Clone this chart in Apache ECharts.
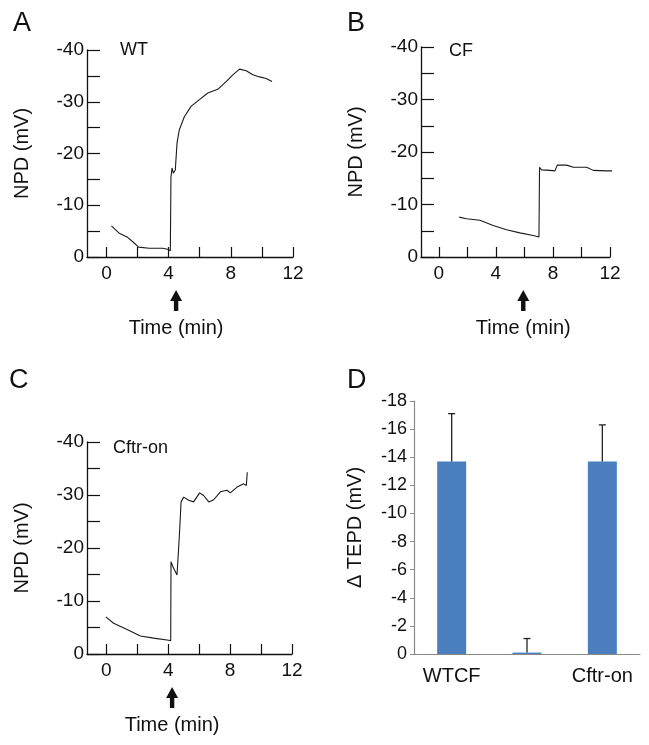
<!DOCTYPE html>
<html>
<head>
<meta charset="utf-8">
<script src="https://cdn.jsdelivr.net/npm/echarts@6/dist/echarts.min.js"></script>
<style>
  html, body { margin: 0; padding: 0; background: #fff; }
  #main { width: 649px; height: 745px; }
</style>
</head>
<body>
<div id="main"></div>
<script>
// NPD traces (time in min, NPD in mV)
const wtTime = [0.32, 0.82, 1.36, 1.68, 2.07, 2.75, 3.61, 3.94, 4.11, 4.15, 4.22, 4.30, 4.43, 4.54, 4.69, 5.01, 5.44, 5.98, 6.52, 7.16, 7.70, 8.13, 8.56, 8.99, 9.42, 9.85, 10.28, 10.65];
const wtNpd  = [-6.0, -4.6, -3.8, -3.0, -1.9, -1.7, -1.7, -1.5, -1.2, -15.5, -17.2, -16.2, -16.8, -22.0, -24.6, -27.1, -29.1, -30.4, -31.7, -32.4, -33.9, -35.2, -36.3, -36.0, -35.2, -34.8, -34.5, -33.9];

const cfTime = [1.43, 1.94, 2.88, 3.81, 4.75, 5.68, 6.62, 7.02, 7.06, 7.20, 7.79, 8.14, 8.30, 8.96, 9.43, 10.36, 10.83, 11.77, 12.82];
const cfNpd  = [-7.6, -7.3, -7.0, -6.0, -5.2, -4.6, -4.1, -3.8, -17.1, -16.6, -16.5, -16.4, -17.5, -17.5, -17.1, -17.1, -16.5, -16.4, -16.4];

const onTime = [-0.04, 0.47, 1.34, 2.20, 3.06, 4.03, 4.16, 4.18, 4.31, 4.57, 4.74, 4.83, 5.00, 5.32, 5.64, 6.03, 6.29, 6.62, 6.94, 7.37, 7.80, 8.01, 8.45, 8.88, 9.05, 9.11];
const onNpd  = [-7.0, -5.8, -4.6, -3.4, -3.0, -2.6, -2.5, -17.4, -16.4, -14.9, -23.4, -28.7, -29.6, -29.0, -28.7, -30.4, -29.9, -28.7, -29.1, -30.6, -30.9, -30.4, -31.5, -32.1, -31.8, -34.3];

// time of the addition marked by an arrow under each trace (min)
const arrowTimes = [4.48, 5.92, 4.25];

// axis ticks for the traces
const xTicks = [0, 2, 4, 6, 8, 10, 12];
const xLabels = [0, 4, 8, 12];
const yTicks = [-40, -35, -30, -25, -20, -15, -10, -5, 0];
const yLabels = [-40, -30, -20, -10, 0];

// panel D
const groups = ['WT', 'CF', 'Cftr-on'];
const groupLabels = ['WTCF', '', 'Cftr-on'];
const dTepd = [-13.7, -0.1, -13.7];
const dTepdSd = [3.4, 1.0, 2.6];

const FONT = 'Liberation Sans, Arial, sans-serif';
const INK = '#111';

const chart = echarts.init(document.getElementById('main'));

const grids = [
  { left: 87, top: 50, width: 206, height: 207 },
  { left: 421, top: 47, width: 189, height: 210 },
  { left: 87, top: 442, width: 205, height: 212 },
  { left: 414, top: 401, width: 226, height: 253 }
];

function traceX(i) {
  return {
    gridIndex: i, type: 'value', min: -1.25, max: 12,
    axisLine: { onZero: false, lineStyle: { color: INK, width: 1.3 } },
    axisTick: { inside: true, length: 10, customValues: xTicks, lineStyle: { color: INK, width: 1.2 } },
    axisLabel: { customValues: xLabels, margin: 7, fontSize: 19, color: INK, fontFamily: FONT },
    splitLine: { show: false }
  };
}
function traceY(i) {
  return {
    gridIndex: i, type: 'value', min: -40, max: 0, inverse: true,
    name: 'NPD (mV)', nameLocation: 'middle', nameGap: 55,
    nameTextStyle: { fontSize: 20, color: INK, fontFamily: FONT },
    axisLine: { show: true, onZero: false, lineStyle: { color: INK, width: 1.3 } },
    axisTick: { show: true, inside: true, length: 13, customValues: yTicks, lineStyle: { color: INK, width: 1.2 } },
    axisLabel: { customValues: yLabels, margin: 3, fontSize: 19, color: INK, fontFamily: FONT },
    splitLine: { show: false }
  };
}
function trace(i, t, v) {
  return {
    type: 'line', xAxisIndex: i, yAxisIndex: i,
    data: t.map((x, k) => [x, v[k]]),
    showSymbol: false, clip: false,
    lineStyle: { color: '#1a1a1a', width: 1.1 }
  };
}

function letter(txt, left, top) {
  return { text: txt, left: left, top: top, textStyle: { fontSize: 27, fontWeight: 'normal', color: INK, fontFamily: FONT } };
}
function tag(txt, left, top) {
  return { text: txt, left: left, top: top, textStyle: { fontSize: 18, fontWeight: 'normal', color: INK, fontFamily: FONT } };
}

option = {
  animation: false,
  textStyle: { fontFamily: FONT },
  title: [
    letter('A', 8, 5), letter('B', 342, 5), letter('C', 4, 362), letter('D', 342, 362),
    tag('WT', 115, 36), tag('CF', 444, 37), tag('Cftr-on', 108, 434)
  ],
  grid: grids,
  xAxis: [
    traceX(0), traceX(1), traceX(2),
    {
      gridIndex: 3, type: 'category', data: groups,
      axisLine: { lineStyle: { color: '#8a8a8a', width: 1.2 } },
      axisTick: { inside: true, length: 5, lineStyle: { color: '#8a8a8a' } },
      axisLabel: { formatter: (v, i) => groupLabels[i], margin: 12, fontSize: 20, color: INK, fontFamily: FONT }
    }
  ],
  yAxis: [
    traceY(0), traceY(1), traceY(2),
    {
      gridIndex: 3, type: 'value', min: -18, max: 0, interval: 2, inverse: true,
      name: 'Δ TEPD (mV)', nameLocation: 'middle', nameGap: 49,
      nameTextStyle: { fontSize: 20, color: INK, fontFamily: FONT },
      axisLine: { show: true, onZero: false, lineStyle: { color: '#8a8a8a', width: 1.2 } },
      axisTick: { show: true, length: 4, lineStyle: { color: '#8a8a8a' } },
      axisLabel: { margin: 7, fontSize: 18, color: INK, fontFamily: FONT },
      splitLine: { show: false }
    }
  ],
  series: [
    trace(0, wtTime, wtNpd),
    trace(1, cfTime, cfNpd),
    trace(2, onTime, onNpd),
    {
      type: 'bar', xAxisIndex: 3, yAxisIndex: 3, data: dTepd, barWidth: 29,
      itemStyle: { color: '#4a7ebf' }
    },
    {
      type: 'custom', xAxisIndex: 3, yAxisIndex: 3,
      data: groups.map((g, i) => [i, dTepd[i], dTepd[i] - dTepdSd[i]]),
      encode: { x: 0, y: [1, 2] },
      z: 5,
      renderItem: function (params, api) {
        const p0 = api.coord([api.value(0), api.value(1)]);
        const p1 = api.coord([api.value(0), api.value(2)]);
        const cap = 3.5;
        return {
          type: 'group',
          children: [
            { type: 'line', shape: { x1: p0[0], y1: p0[1], x2: p1[0], y2: p1[1] }, style: { stroke: '#222', lineWidth: 1.3 } },
            { type: 'line', shape: { x1: p1[0] - cap, y1: p1[1], x2: p1[0] + cap, y2: p1[1] }, style: { stroke: '#222', lineWidth: 1.3 } }
          ]
        };
      }
    }
  ]
};

chart.setOption(option);

// arrows and time captions sit under each trace at the addition time
const marks = [];
arrowTimes.forEach(function (t, i) {
  const p = chart.convertToPixel({ xAxisIndex: i, yAxisIndex: i }, [t, 0]);
  marks.push({
    type: 'polygon', x: p[0], y: p[1] + 33,
    shape: { points: [[0, 0], [6, 11], [2.2, 11], [2.2, 21], [-2.2, 21], [-2.2, 11], [-6, 11]] },
    style: { fill: INK }
  });
  marks.push({
    type: 'text', x: p[0], y: p[1] + 71,
    style: { text: 'Time (min)', fontSize: 20, fontFamily: FONT, fill: INK,
      align: 'center', verticalAlign: 'middle', textAlign: 'center', textVerticalAlign: 'middle' }
  });
});
chart.setOption({ graphic: marks });
</script>
</body>
</html>
